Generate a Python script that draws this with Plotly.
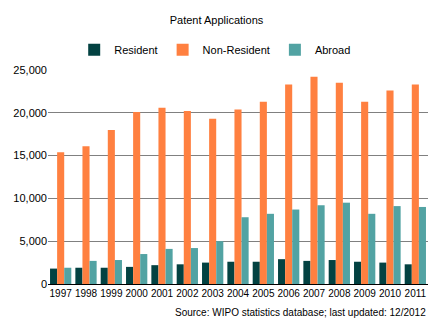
import plotly.graph_objects as go

years = ["1997", "1998", "1999", "2000", "2001", "2002", "2003", "2004",
         "2005", "2006", "2007", "2008", "2009", "2010", "2011"]
resident = [1800, 1900, 1900, 2000, 2200, 2300, 2500, 2600,
            2600, 2900, 2700, 2800, 2600, 2500, 2300]
non_resident = [15400, 16100, 18000, 20100, 20600, 20200, 19300, 20400,
                21300, 23300, 24200, 23500, 21300, 22600, 23300]
abroad = [1900, 2700, 2800, 3500, 4100, 4200, 5000, 7800,
          8200, 8700, 9200, 9500, 8200, 9100, 9000]

series = [
    ("Resident", resident, "#034242"),
    ("Non-Resident", non_resident, "#FF8040"),
    ("Abroad", abroad, "#52A3A3"),
]

font = "Liberation Sans"

fig = go.Figure()
for name, vals, color in series:
    fig.add_trace(go.Bar(x=years, y=vals, name=name, marker_color=color,
                         marker_line_width=0))

fig.update_layout(
    width=433, height=321,
    margin=dict(l=48, r=5, t=70, b=37),
    paper_bgcolor="white", plot_bgcolor="white",
    barmode="group", bargap=0.16, bargroupgap=0,
    font=dict(family=font, size=10, color="black"),
    title=dict(text="Patent Applications", x=0.5, xanchor="center",
               y=0.938, yanchor="middle", font=dict(size=11, family=font)),
    legend=dict(orientation="h", x=0.44, xanchor="center", y=1.095,
                yanchor="middle", font=dict(size=11, family=font),
                itemwidth=30, traceorder="normal"),
    showlegend=True,
)
fig.update_xaxes(showline=True, linecolor="black", linewidth=1,
                 ticks="", tickangle=0, tickfont=dict(size=10), showgrid=False)
fig.update_yaxes(range=[0, 25000], dtick=5000, tickformat=",",
                 showgrid=True, gridcolor="#808080", gridwidth=1,
                 zeroline=False, ticks="", tickfont=dict(size=11))

fig.add_annotation(text="Source: WIPO statistics database; last updated: 12/2012",
                   xref="paper", yref="paper", x=1, y=-0.135,
                   xanchor="right", yanchor="middle", showarrow=False,
                   font=dict(size=10, family=font))

fig.write_html("out.html")
